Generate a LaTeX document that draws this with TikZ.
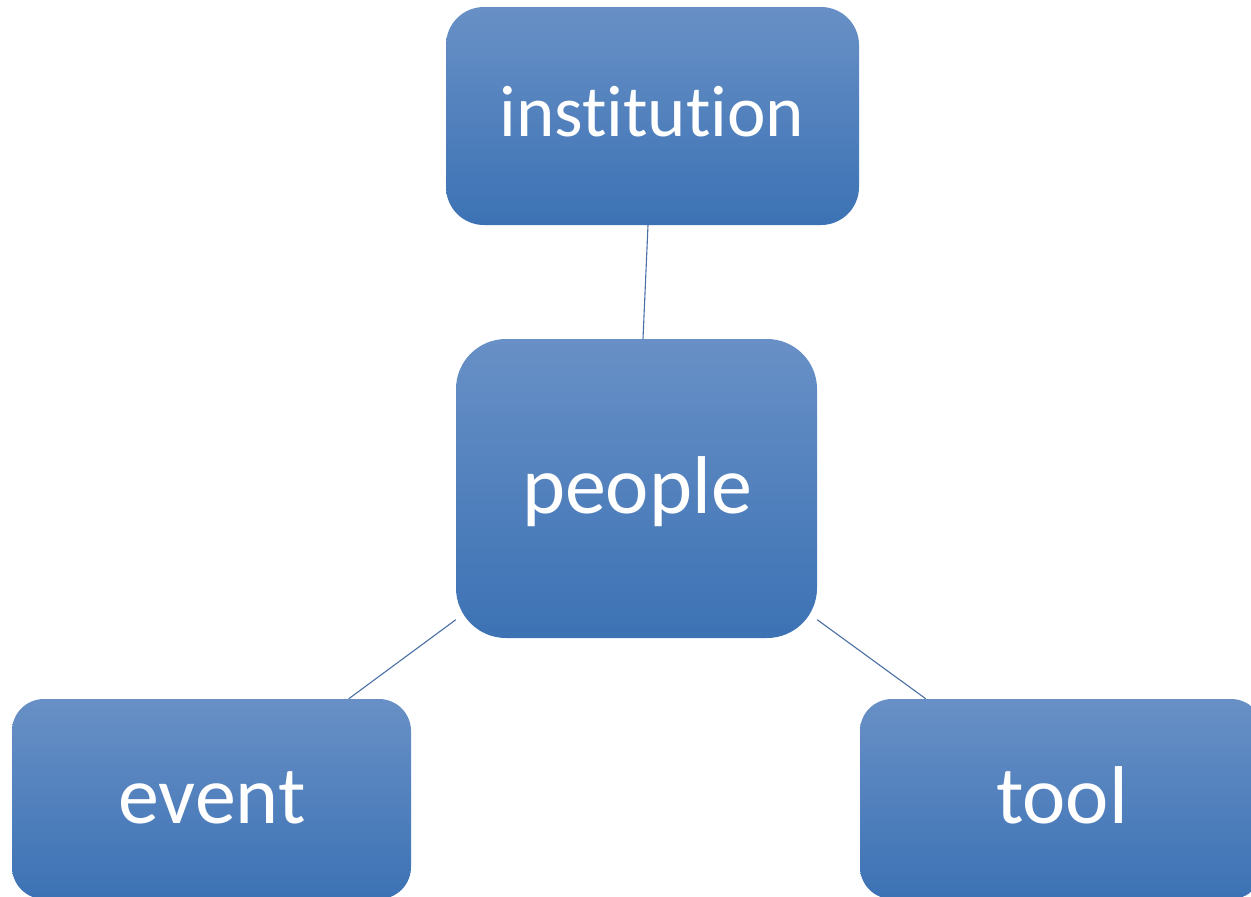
\documentclass[tikz,border=0pt]{standalone}
\usepackage{fontspec}
\setmainfont[Ligatures=NoCommon]{Carlito}
\definecolor{boxtop}{RGB}{104,144,198}
\definecolor{boxbot}{RGB}{60,114,180}
\definecolor{linkcol}{RGB}{74,111,165}
\begin{document}
\begin{tikzpicture}[x=1pt,y=-1pt,
  box/.style={rectangle, inner sep=0pt, top color=boxtop, bottom color=boxbot, draw=none},
  lbl/.style={anchor=base, text=white, inner sep=0pt},
  link/.style={draw=linkcol, line width=1.1pt}]
\useasboundingbox (0,0) rectangle (1251,897);
\clip (0,0) rectangle (1251,897);
% boxes
\node[box, rounded corners=38pt, minimum width=413pt, minimum height=218pt] (inst) at (652.5,116) {};
\node[box, rounded corners=50pt, minimum width=361pt, minimum height=299pt] (people) at (636.5,488.5) {};
\node[box, rounded corners=32pt, minimum width=399pt, minimum height=200pt] (event) at (211.5,799) {};
\node[box, rounded corners=32pt, minimum width=403pt, minimum height=200pt] (tool) at (1061.5,799) {};
% labels
\node[lbl, font=\fontsize{73}{80}\selectfont] (instL) at (652,136) {institution};
\node[lbl, font=\fontsize{82}{90}\selectfont] (peopleL) at (637,513) {people};
\node[lbl, font=\fontsize{82}{90}\selectfont] (eventL) at (212,823) {event};
\node[lbl, font=\fontsize{82}{90}\selectfont] (toolL) at (1062,823) {tool};
% connector end points
\coordinate (instB) at ([xshift=-4.5pt]inst.south);
\coordinate (peopleT) at ([xshift=6.5pt]people.north);
\coordinate (peopleL1) at ([yshift=18.5pt]people.south west);
\coordinate (peopleR1) at ([yshift=18.5pt]people.south east);
\coordinate (eventT) at ([xshift=-62.5pt]event.north east);
\coordinate (toolT) at ([xshift=66pt]tool.north west);
\draw[link] (instB) -- (peopleT);
\draw[link] (peopleL1) -- (eventT);
\draw[link] (peopleR1) -- (toolT);
\end{tikzpicture}
\end{document}
